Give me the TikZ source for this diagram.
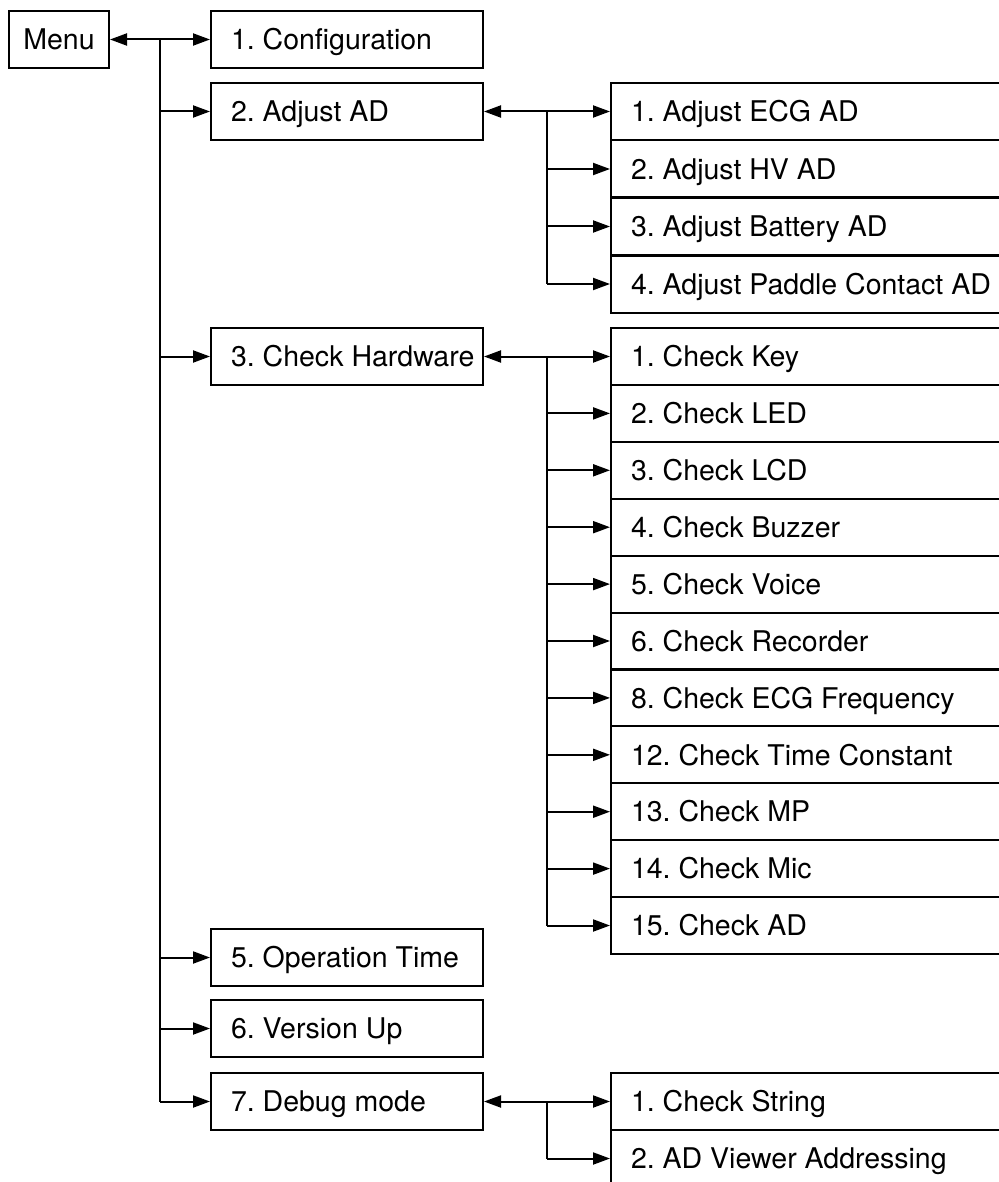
\documentclass[tikz,border=0pt]{standalone}
\usepackage{fontspec}
\setmainfont{TeX Gyre Heros}
\usetikzlibrary{arrows.meta}

\def\RowH{57}
\def\Trunk{160}
\def\Fork{547}
\def\SubX{610}

\begin{document}
\frenchspacing
\begin{tikzpicture}[x=1pt,y=-1pt,
  font=\fontsize{28.5}{32}\selectfont,
  >={Triangle[length=17pt,width=12pt]},
  line width=2pt,
  item/.style={draw, anchor=north west, minimum height=\RowH pt,
    inner xsep=20pt, text height=20.5pt, text depth=0pt,
    execute at begin node={\hbox to #1\bgroup\spaceskip=\fontdimen2\font\relax},
    execute at end node={\hfil\egroup}},
  menubox/.style={item=232pt},
  subbox/.style={item=390pt}]
  \useasboundingbox (0,0) rectangle (998,1182);

  % --- Menu principal ---
  \node[draw, anchor=north west, minimum width=100pt, minimum height=\RowH pt,
    text height=20.5pt, text depth=0pt] (menu) at (8,10) {Menu};
  \node[menubox] (cfg) at (210,10) {1. Configuration};
  \node[menubox] (adj) at (210,82) {2. Adjust AD};
  \node[menubox] (hw) at (210,327) {3. Check Hardware};
  \node[menubox] (op) at (210,928) {5. Operation Time};
  \node[menubox] (ver) at (210,999) {6. Version Up};
  \node[menubox] (dbg) at (210,1072) {7. Debug mode};

  % --- Submenus ---
  \foreach \t [count=\i] in {%
    1. Adjust ECG AD,
    2. Adjust HV AD,
    3. Adjust Battery AD,
    4. Adjust Paddle Contact AD
  }{
    \node[subbox] (adj\i) at (\SubX,{82+(\i-1)*57.5}) {\t};
  }
  \foreach \t [count=\i] in {%
    1. Check Key,
    2. Check LED,
    3. Check LCD,
    4. Check Buzzer,
    5. Check Voice,
    6. Check Recorder,
    8. Check ECG Frequency,
    12. Check Time Constant,
    13. Check MP,
    14. Check Mic,
    15. Check AD
  }{
    \node[subbox] (hw\i) at (\SubX,{327+(\i-1)*56.9}) {\t};
  }
  \foreach \t [count=\i] in {1. Check String, 2. AD Viewer Addressing}
  {
    \node[subbox] (dbg\i) at (\SubX,{1072+(\i-1)*57}) {\t};
  }

  % --- Conexiones ---
  \coordinate (trunk) at (\Trunk,0);
  \coordinate (fork) at (\Fork,0);
  \draw[<->] (menu.east) -- (cfg.west);
  \draw (trunk |- cfg.west) -- (trunk |- dbg.west);
  \foreach \n in {adj,hw,op,ver,dbg}
  {
    \draw[->] (trunk |- \n.west) -- (\n.west);
  }
  \foreach \p/\last in {adj/4,hw/11,dbg/2}
  {
    \draw[<->] (\p.east) -- (\p1.west);
    \draw (fork |- \p1.west) -- (fork |- \p\last.west);
    \foreach \i in {2,...,\last}
      \draw[->] (fork |- \p\i.west) -- (\p\i.west);
  }
\end{tikzpicture}
\end{document}
